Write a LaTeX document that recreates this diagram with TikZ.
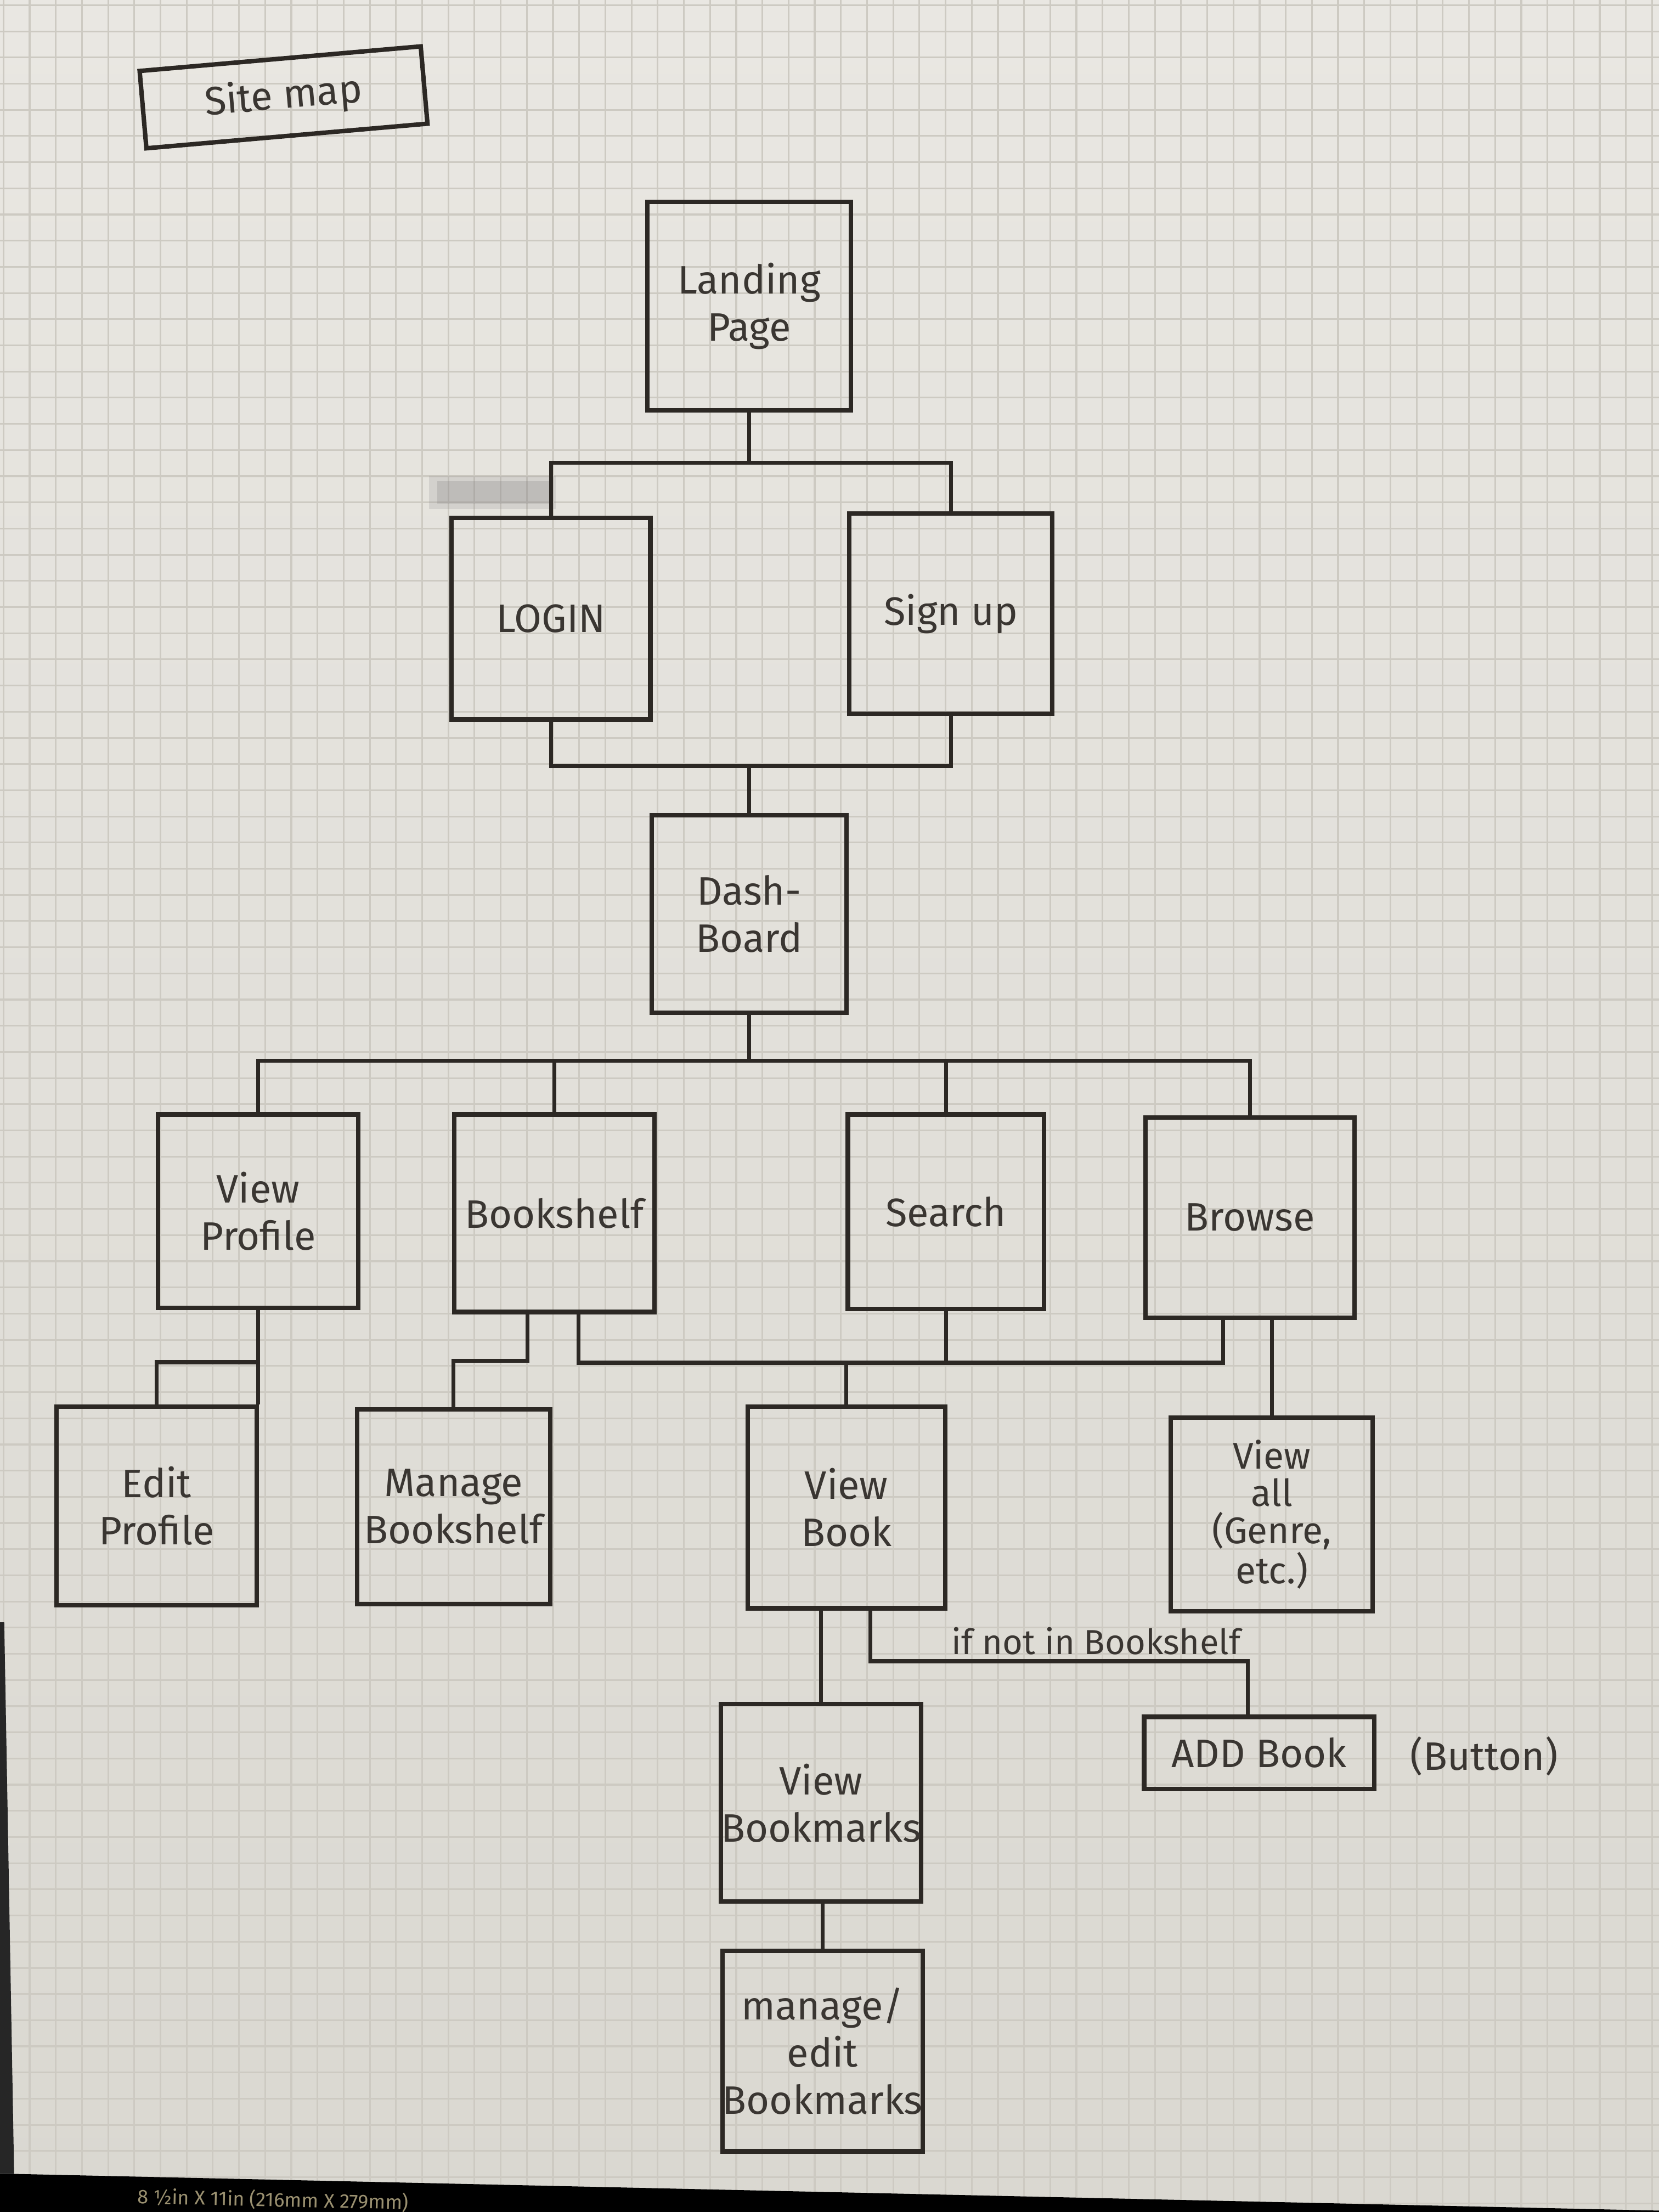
\documentclass[tikz,border=0pt]{standalone}
\usepackage{fontspec}
\setmainfont{Fira Sans}
\usetikzlibrary{calc}
\definecolor{papertop}{HTML}{E9E7E2}
\definecolor{paperbot}{HTML}{DAD8D1}
\definecolor{gridc}{HTML}{CDCAC2}
\definecolor{pencil}{HTML}{2C2824}
\definecolor{pentext}{HTML}{3A3632}
\definecolor{edgeink}{HTML}{9A9070}
\begin{document}
\begin{tikzpicture}[x=0.02cm,y=-0.02cm,
  box/.style={draw=pencil, line width=1.8pt, text=pentext, align=center, inner sep=0pt,
              font=\fontsize{16}{19}\selectfont},
  bx/.style n args={2}{minimum width=#1*0.02cm, minimum height=#2*0.02cm},
  wire/.style={draw=pencil, line width=1.6pt},
  txt/.style={text=pentext, inner sep=1pt, font=\fontsize{16}{19}\selectfont},
  lbl/.style={text=pentext, inner sep=1pt, font=\fontsize{14}{16}\selectfont}]
% paper
\useasboundingbox (0,0) rectangle (1176,1568);
\shade[top color=papertop, bottom color=paperbot] (0,0) rectangle (1176,1568);
\foreach \i in {0,...,63} {\draw[gridc, line width=0.7pt] ({2.45+\i*18.55},0) -- ({2.45+\i*18.55},1568);}
\foreach \j in {0,...,84} {\draw[gridc, line width=0.7pt] (0,{3.65+\j*18.55}) -- (1176,{3.65+\j*18.55});}
% photo edges
\fill[black] (0,1541) -- (11,1541) -- (1176,1567) -- (1176,1568) -- (0,1568) -- cycle;
\fill[black!85] (0,1150) -- (3,1150) -- (10,1541) -- (0,1541) -- cycle;
\node[text=edgeink, inner sep=0pt, font=\fontsize{8}{9}\selectfont, rotate=-1.3, anchor=west] (paperinfo) at (97,1557) {8 ½in X 11in (216mm X 279mm)};
% pencil smudge
\fill[gray, opacity=0.18] (304,337) rectangle (394,361);
\fill[gray, opacity=0.25] (310,341) rectangle (392,357);
% title
\node[box, bx={200}{55}, rotate=5] (site) at (201,69) {Site map};
% boxes
\node[box, bx={144}{148}] (land) at (531,217) {Landing\\Page};
\node[box, bx={141}{143}] (login) at (390.5,438.5) {LOGIN};
\node[box, bx={144}{142}] (signup) at (674,435) {Sign up};
\node[box, bx={138}{140}] (dash) at (531,648) {Dash-\\Board};
\node[box, bx={142}{137}] (vprof) at (183,858.5) {View\\Profile};
\node[box, bx={142}{140}] (bshelf) at (393,860) {Bookshelf};
\node[box, bx={139}{138}] (search) at (670.5,859) {Search};
\node[box, bx={148}{142}] (browse) at (886,863) {Browse};
\node[box, bx={142}{141}] (eprof) at (111,1067.5) {Edit\\Profile};
\node[box, bx={137}{138}] (mbshelf) at (321.5,1068) {Manage\\Bookshelf};
\node[box, bx={140}{143}] (vbook) at (600,1068.5) {View\\Book};
\node[box, bx={143}{137}, font=\fontsize{15}{15}\selectfont] (vall) at (901.5,1073.5) {View\\all\\(Genre,\\etc.)};
\node[box, bx={140}{140}] (vbm) at (582,1278) {View\\Bookmarks};
\node[box, bx={140}{142}] (mbm) at (583,1454) {manage/\\edit\\Bookmarks};
\node[box, bx={163}{51}] (addbook) at (892.5,1242.5) {ADD Book};
\node[txt] (button) at (1052,1245) {(Button)};
% connectors: landing -> login / sign up
\coordinate (b1) at (531,328);
\draw[wire] (land.south) -- (b1);
\draw[wire] (login.north) |- (b1) -| (signup.north);
% login / sign up -> dashboard
\coordinate (b2) at (531,543);
\draw[wire] (login.south) |- (b2) -| (signup.south);
\draw[wire] (b2) -- (dash.north);
% dashboard -> second row
\coordinate (b3) at (531,752);
\draw[wire] (dash.south) -- (b3);
\draw[wire] (vprof.north) |- (b3) -| (browse.north);
\draw[wire] (bshelf.north) -- (bshelf.north |- b3);
\draw[wire] (search.north) -- (search.north |- b3);
% view profile -> edit profile
\coordinate (ep) at ($(vprof.south)+(0,37)$);
\draw[wire] (vprof.south) -- (vprof.south |- eprof.north);
\draw[wire] (ep) -| (eprof.north);
% bookshelf -> manage bookshelf
\coordinate (bs1) at ($(bshelf.south)+(-19,0)$);
\draw[wire] (bs1) -- ++(0,33) -| (mbshelf.north);
% bookshelf / search / browse -> view book
\coordinate (bs2) at ($(bshelf.south)+(17,0)$);
\coordinate (bw1) at ($(browse.south)+(-19,0)$);
\coordinate (b4) at (600,966);
\draw[wire] (bs2) |- (bw1 |- b4) -- (bw1);
\draw[wire] (search.south) -- (search.south |- b4);
\draw[wire] (b4) -- (vbook.north);
% browse -> view all
\draw[wire] (vall.north) -- (vall.north |- browse.south);
% view book -> view bookmarks -> manage bookmarks
\draw[wire] (vbm.north) -- (vbm.north |- vbook.south);
\draw[wire] (mbm.north) -- (mbm.north |- vbm.south);
% view book -> add book
\coordinate (vb2) at ($(vbook.south)+(17,0)$);
\coordinate (ab) at ($(addbook.north)+(-8,0)$);
\draw[wire] (vb2) -- ++(0,36) -| (ab);
\node[lbl, anchor=south] (ifnot) at (777,1175) {if not in Bookshelf};
\end{tikzpicture}
\end{document}
